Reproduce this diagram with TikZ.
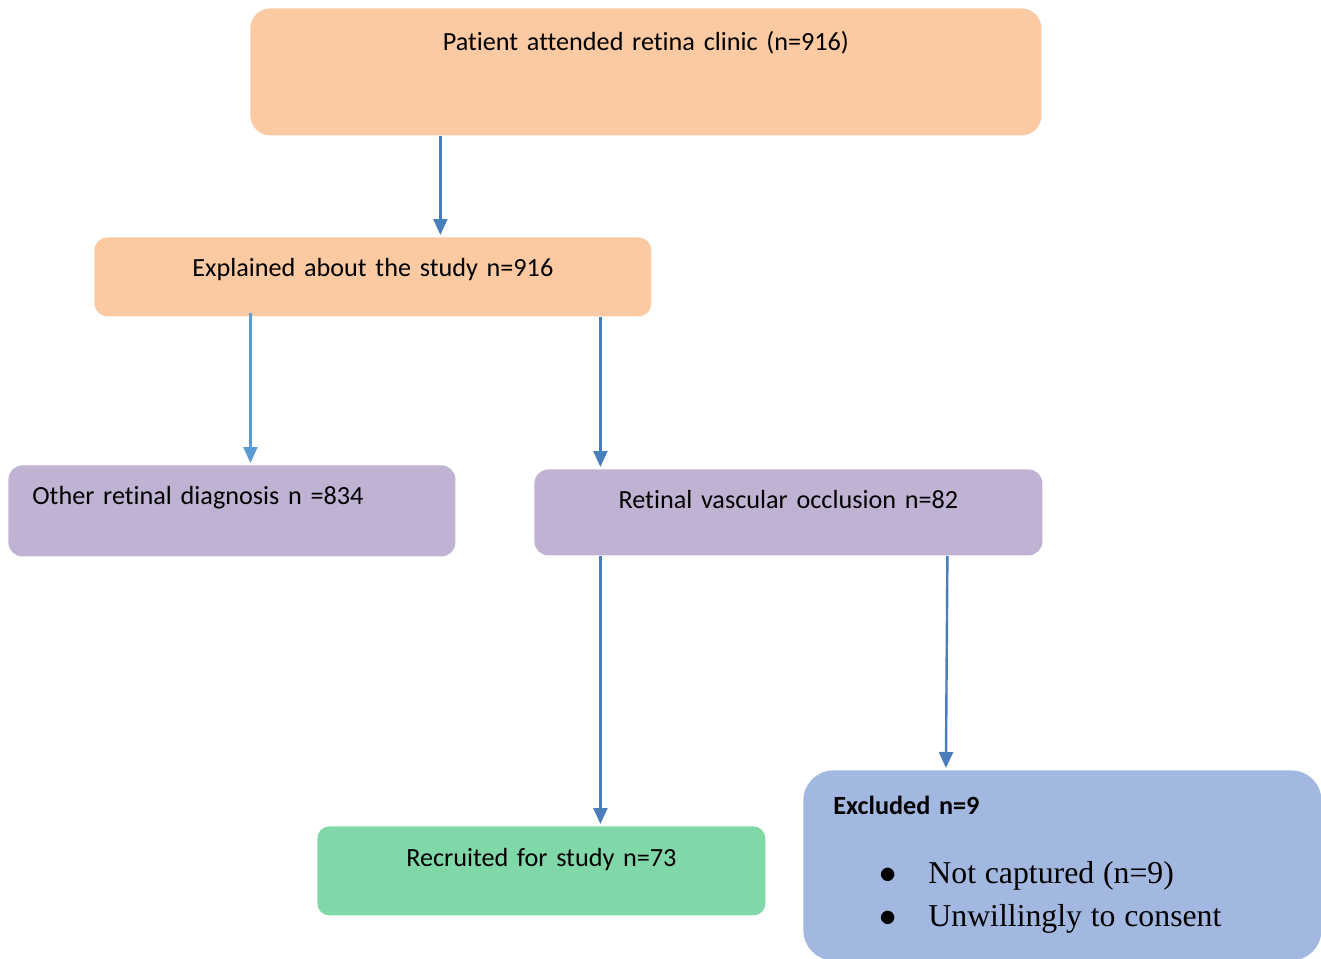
\documentclass[tikz,border=0pt]{standalone}
\usepackage{fontspec}
\setmainfont{Carlito}[Ligatures=NoCommon, WordSpace=0.85]
\newfontfamily\timesfont{Liberation Serif}
\usetikzlibrary{arrows.meta}

\definecolor{peach}{HTML}{FBC9A2}
\definecolor{lilac}{HTML}{C0B2D3}
\definecolor{mint}{HTML}{80D8A8}
\definecolor{skyblue}{HTML}{A2B8E1}
\definecolor{arrowblue}{HTML}{4A7EBB}
\definecolor{lightarrow}{HTML}{5B9BD5}

\tikzset{
  box/.style={anchor=north west, inner sep=0pt, align=center,
    rounded corners=6.5pt, font=\fontsize{13.1}{16}\selectfont},
  arr/.style={draw=arrowblue, line width=1.2pt,
    -{Triangle[length=8pt,width=7pt]}, shorten >=1pt},
}

\begin{document}
\begin{tikzpicture}[x=0.5pt,y=-0.5pt]
\useasboundingbox (0,0) rectangle (1321,958);

% clinic and study boxes
\node [box, fill=peach, rounded corners=10pt, text width=395.5pt,
  text height=21pt, text depth=42.5pt] (clinic) at (250,8)
  {Patient attended retina clinic (n=916)};
\node [box, fill=peach, text width=278.5pt,
  text height=19.5pt, text depth=20pt] (study) at (94,237)
  {Explained about the study n=916};

% diagnosis boxes
\node [box, fill=lilac, rounded corners=7pt, align=left, inner xsep=12pt,
  text width=199.5pt, text height=19.5pt, text depth=26pt] (other) at (8,465)
  {Other retinal diagnosis n =834};
\node [box, fill=lilac, rounded corners=7pt, text width=254pt,
  text height=19.5pt, text depth=23.5pt] (rvo) at (534,469)
  {Retinal vascular occlusion n=82};

% outcome boxes
\node [box, fill=mint, rounded corners=6pt, text width=224pt,
  text height=20pt, text depth=24.5pt] (recruit) at (317,826)
  {Recruited for study n=73};
\node [box, fill=skyblue, rounded corners=15pt, align=left, inner xsep=15pt,
  text width=229pt, text height=22pt, text depth=73pt] (excl) at (803,770)
  {\textbf{Excluded n=9}\\[18.5pt]
  {\timesfont\fontsize{15.9}{16}\selectfont
  \hspace*{23pt}\makebox[24.5pt][l]{$\bullet$}Not captured (n=9)\\[5.5pt]
  \hspace*{23pt}\makebox[24.5pt][l]{$\bullet$}Unwillingly to consent}};

% arrows
\draw [arr] ([xshift=-102.75pt]clinic.south) -- ([xshift=33.75pt]study.north);
\draw [arr, draw=lightarrow] ([xshift=-61.25pt,yshift=2pt]study.south) -- ([xshift=9.25pt]other.north);
\draw [arr] ([xshift=113.75pt]study.south) -- ([xshift=-94pt]rvo.north);
\draw [arr] ([xshift=-94pt]rvo.south) -- ([xshift=29.5pt]recruit.north);
\draw [arr] ([xshift=79.5pt]rvo.south) -- ([xshift=-58.25pt]excl.north);
\end{tikzpicture}
\end{document}
